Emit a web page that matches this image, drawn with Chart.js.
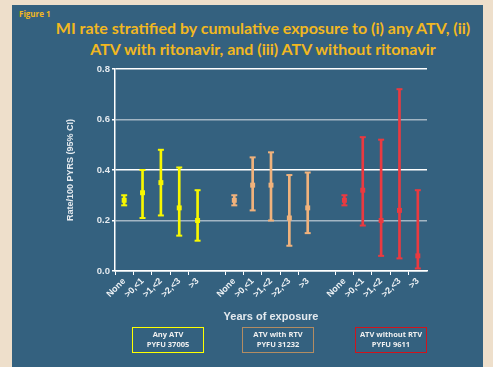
<!DOCTYPE html>
<html>
<head>
<meta charset="utf-8">
<script src="https://cdn.jsdelivr.net/npm/chart.js@4.4.1/dist/chart.umd.min.js"></script>
<style>
  html, body { margin: 0; padding: 0; background: #eedfcb; width: 493px; height: 367px; overflow: hidden; }
  #panel { position: absolute; left: 12px; top: 5px; width: 471px; height: 362px; background: #34617f; }
  #fig { position: absolute; left: 19px; top: 8px; font: bold 8px "Open Sans", sans-serif; color: #f2b81f; }
  #title { position: absolute; left: 40px; width: 446px; top: 17px; text-align: center;
           font: bold 16px Lato, sans-serif; line-height: 21px; color: #f2b81f; }
  canvas { position: absolute; left: 0; top: 0; }
  .box { position: absolute; top: 327px; width: 70px; height: 23px; text-align: center;
         font: bold 7.5px "Open Sans", sans-serif; line-height: 10px; color: #f0f0f0; padding-top: 1px; }
</style>
</head>
<body>
<div id="panel"></div>
<div id="fig">Figure 1</div>
<div id="title">MI rate stratified by cumulative exposure to (i) any ATV, (ii)<br>ATV with ritonavir, and (iii) ATV without ritonavir</div>
<canvas id="myChart" width="493" height="367"></canvas>
<div class="box" style="left:132px; border:1.5px solid #ffff00;">Any ATV<br>PYFU 37005</div>
<div class="box" style="left:242px; border:1.5px solid #b38c62;">ATV with RTV<br>PYFU 31232</div>
<div class="box" style="left:355px; border:1.5px solid #d0141c;">ATV without RTV<br>PYFU 9611</div>
<script>
const groupLabels = ['None', '>0,<1', '>1,<2', '>2,<3', '>3'];

const anyRate = [0.28, 0.31, 0.35, 0.25, 0.20];
const anyLow  = [0.26, 0.21, 0.22, 0.14, 0.12];
const anyHigh = [0.30, 0.40, 0.48, 0.41, 0.32];

const rtvRate = [0.28, 0.34, 0.34, 0.21, 0.25];
const rtvLow  = [0.26, 0.24, 0.20, 0.10, 0.15];
const rtvHigh = [0.30, 0.45, 0.47, 0.38, 0.39];

const noRtvRate = [0.28, 0.32, 0.20, 0.24, 0.06];
const noRtvLow  = [0.26, 0.18, 0.06, 0.05, 0.01];
const noRtvHigh = [0.30, 0.53, 0.52, 0.72, 0.32];

const yTicks = [0, 0.2, 0.4, 0.6, 0.8];

// 3 groups of 5 with an empty slot between them
const labels = [...groupLabels, '', ...groupLabels, '', ...groupLabels];

function place(arr, g) {
    const out = new Array(labels.length).fill(null);
    arr.forEach((v, i) => { out[g * 6 + i] = v; });
    return out;
}

function groupSets(rate, low, high, g, color) {
    const ranges = low.map((l, i) => [l, high[i]]);
    const pts = { type: 'line', showLine: false, borderColor: color, backgroundColor: color };
    return [
        { type: 'bar', data: place(ranges, g), backgroundColor: color, barThickness: 2, grouped: false },
        { ...pts, data: place(high, g), pointStyle: 'line', pointRadius: 3, pointBorderWidth: 2 },
        { ...pts, data: place(low, g), pointStyle: 'line', pointRadius: 3, pointBorderWidth: 2 },
        { ...pts, data: place(rate, g), pointStyle: 'rect', pointRadius: 3.5, pointBorderWidth: 0 }
    ];
}

const ctx = document.getElementById('myChart').getContext('2d');
new Chart(ctx, {
    type: 'bar',
    data: {
        labels: labels,
        datasets: [
            ...groupSets(anyRate, anyLow, anyHigh, 0, '#f7f700'),
            ...groupSets(rtvRate, rtvLow, rtvHigh, 1, '#f0b27c'),
            ...groupSets(noRtvRate, noRtvLow, noRtvHigh, 2, '#ea3a40')
        ]
    },
    options: {
        responsive: false,
        animation: false,
        layout: { padding: { left: 61, top: 69, right: 66, bottom: 39 } },
        plugins: { legend: { display: false }, tooltip: { enabled: false } },
        scales: {
            x: {
                afterFit: (s) => { s.height = 57; },
                border: { color: '#ffffff', width: 1.5 },
                grid: {
                    drawOnChartArea: false,
                    tickLength: 4,
                    tickColor: (c) => labels[c.index] ? '#ffffff' : 'rgba(0,0,0,0)'
                },
                ticks: {
                    autoSkip: false, maxRotation: 45, minRotation: 45, padding: 1,
                    color: '#eef2f5', font: { family: 'Liberation Sans', size: 9, weight: 'bold' }
                },
                title: {
                    display: true, text: 'Years of exposure', color: '#e4eaef',
                    font: { family: 'Liberation Sans', size: 11, weight: 'bold' }
                }
            },
            y: {
                min: 0, max: 0.8,
                afterFit: (s) => { s.width = 54; },
                afterBuildTicks: (s) => { s.ticks = yTicks.map(v => ({ value: v })); },
                border: { color: '#ffffff', width: 1.5 },
                grid: {
                    lineWidth: 1.5,
                    tickLength: 3,
                    tickColor: '#ffffff',
                    color: (c) => (c.tick && (Math.abs(c.tick.value - 0.2) < 1e-6 || Math.abs(c.tick.value - 0.6) < 1e-6)) ? '#a3b6c4' : '#ffffff'
                },
                ticks: {
                    padding: 2,
                    color: '#e4eaef', font: { family: 'Liberation Sans', size: 9.5, weight: 'bold' },
                    callback: (v) => Number(v).toFixed(1)
                },
                title: {
                    display: true, text: 'Rate/100 PYRS (95% CI)', color: '#e4eaef',
                    font: { family: 'Liberation Sans', size: 9, weight: 'bold' }
                }
            }
        }
    }
});
</script>
</body>
</html>
